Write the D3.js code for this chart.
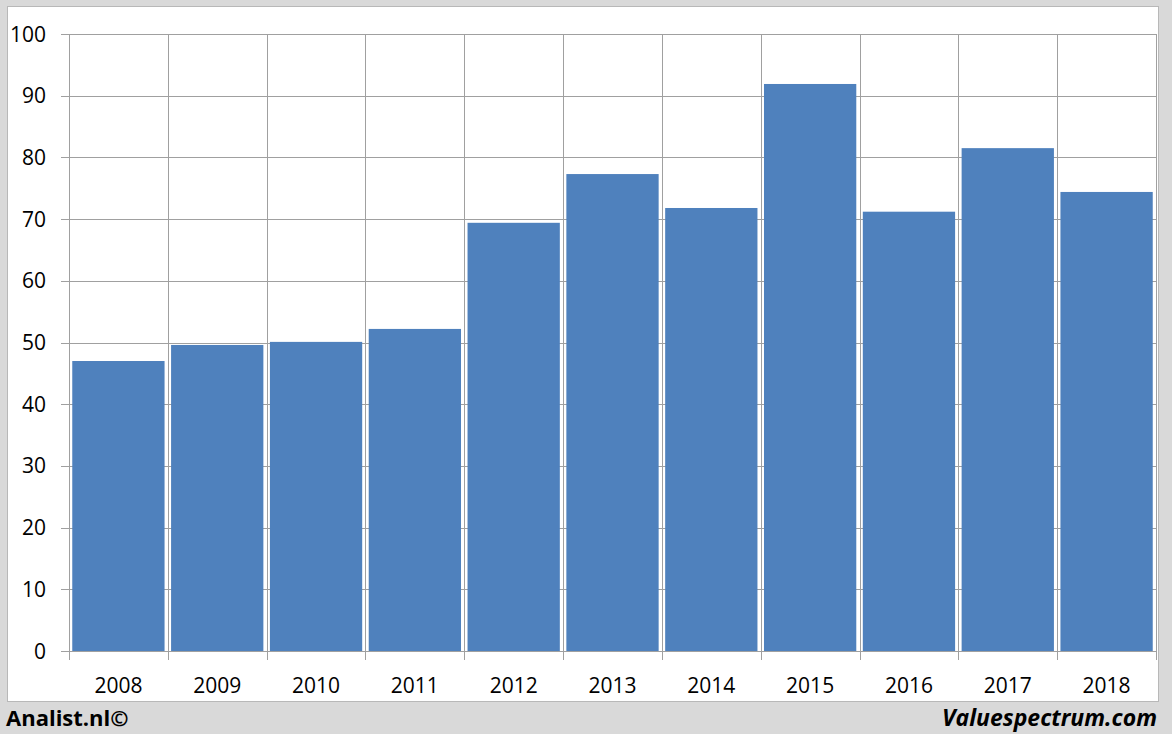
<!DOCTYPE html>
<html><head><meta charset="utf-8">
<script src="https://cdn.jsdelivr.net/npm/d3@7"></script>
<style>body{margin:0;background:#d9d9d9;}svg{display:block;}</style>
</head><body>
<svg id="c" width="1172" height="734"></svg>
<script>
const years = ["2008","2009","2010","2011","2012","2013","2014","2015","2016","2017","2018"];
const values = [47.0, 49.6, 50.1, 52.2, 69.4, 77.3, 71.8, 91.9, 71.2, 81.5, 74.4];
const yTicks = [0,10,20,30,40,50,60,70,80,90,100];

const svg = d3.select("#c");
const font = "'Open Sans', 'Liberation Sans', sans-serif";
svg.append("rect").attr("width",1172).attr("height",734).attr("fill","#d9d9d9");
svg.append("rect").attr("x",7.5).attr("y",6.5).attr("width",1151).attr("height",695)
  .attr("fill","#fff").attr("stroke","#b8b8b8").attr("stroke-width",1);

const L=69, R=1156, T=34, B=651;
const x = d3.scaleBand().domain(years).range([L,R]).paddingInner(0.066).paddingOuter(0.033);
const y = d3.scaleLinear().domain([0,100]).range([B,T]);

// horizontal gridlines + y ticks
svg.append("g").selectAll("line").data(yTicks).join("line")
  .attr("x1",61).attr("x2",R).attr("y1",d=>Math.round(y(d))+0.5).attr("y2",d=>Math.round(y(d))+0.5)
  .attr("stroke","#a0a0a0").attr("stroke-width",1);
// vertical gridlines
const bounds = d3.range(years.length+1).map(i=>L + i*(R-L)/years.length);
svg.append("g").selectAll("line").data(bounds).join("line")
  .attr("x1",d=>Math.round(d)+0.5).attr("x2",d=>Math.round(d)+0.5)
  .attr("y1",T).attr("y2",(d,i)=> B+9)
  .attr("stroke","#a0a0a0").attr("stroke-width",1);

// bars
svg.append("g").selectAll("rect").data(years).join("rect")
  .attr("x",d=>x(d)).attr("width",x.bandwidth())
  .attr("y",(d,i)=>y(values[i])).attr("height",(d,i)=>B-y(values[i]))
  .attr("fill","#4f81bd");

// axis line
svg.append("line").attr("x1",L).attr("x2",R).attr("y1",B+0.5).attr("y2",B+0.5).attr("stroke","#a0a0a0");

// y labels
svg.append("g").selectAll("text").data(yTicks).join("text")
  .attr("x",46).attr("y",d=>y(d)).attr("dy","0.36em").attr("text-anchor","end")
  .attr("font-family",font).attr("font-size",21).attr("fill","#000").text(d=>d);
// x labels
svg.append("g").selectAll("text").data(years).join("text")
  .attr("x",d=>x(d)+x.bandwidth()/2).attr("y",693).attr("text-anchor","middle")
  .attr("font-family",font).attr("font-size",21).attr("fill","#000").text(d=>d);

svg.append("text").attr("x",6).attr("y",726).attr("font-family",font).attr("font-weight","bold")
  .attr("font-size",22).attr("fill","#000").text("Analist.nl©");
svg.append("text").attr("x",1157).attr("y",726).attr("text-anchor","end").attr("font-family",font)
  .attr("font-weight","bold").attr("font-style","italic").attr("font-size",23).attr("fill","#000").text("Valuespectrum.com");
</script>
</body></html>
